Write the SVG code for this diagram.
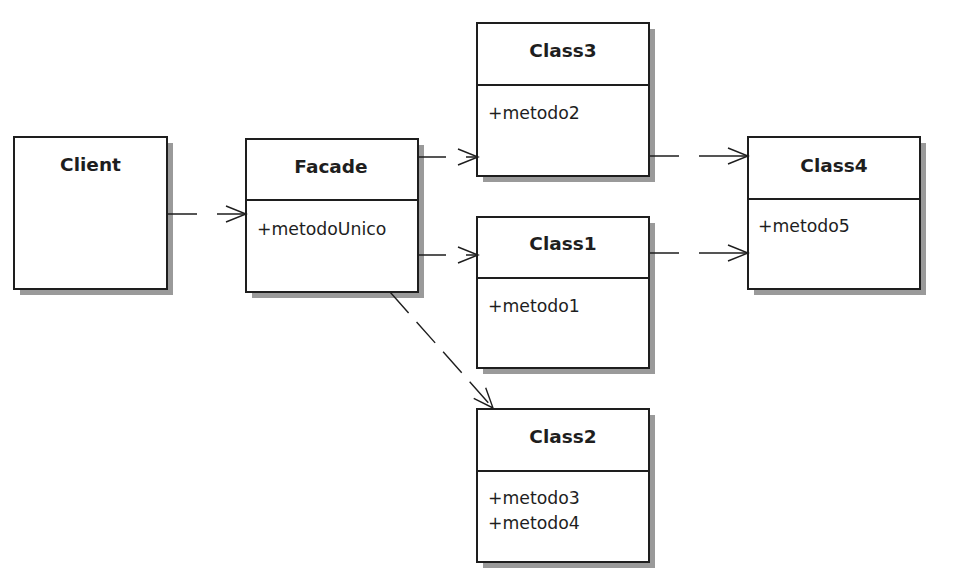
<svg xmlns="http://www.w3.org/2000/svg" width="957" height="587" viewBox="0 0 957 587">
<style>
.box{fill:#fff;stroke:#1e1e1e;stroke-width:2}
.shadow{fill:#9a9a9a}
.div{stroke:#1e1e1e;stroke-width:2}
.title{font-family:"DejaVu Sans",sans-serif;font-weight:bold;font-size:18.5px;fill:#1e1e1e;text-anchor:middle}
.m{font-family:"DejaVu Sans",sans-serif;font-size:17.3px;fill:#1e1e1e}
.c{fill:none;stroke:#1e1e1e;stroke-width:1.4}
.dash{stroke-dasharray:28 12}
</style>
<defs>
<marker id="open" markerUnits="userSpaceOnUse" viewBox="-22 -10 24 20" refX="0" refY="0" markerWidth="24" markerHeight="20" orient="auto">
<path d="M-20,-8 L0,0 L-20,8" fill="none" stroke="#1e1e1e" stroke-width="1.4"/>
</marker>
</defs>
<rect width="957" height="587" fill="#fff"/>
<g id="client">
<rect class="shadow" x="20" y="143" width="153" height="152"/>
<rect class="box" x="14" y="137" width="153" height="152"/>
<text class="title" x="90.5" y="171">Client</text>
</g>
<g id="facade">
<rect class="shadow" x="252" y="145" width="172" height="153"/>
<rect class="box" x="246" y="139" width="172" height="153"/>
<line class="div" x1="246" y1="200" x2="418" y2="200"/>
<text class="title" x="331" y="173">Facade</text>
<text class="m" x="257" y="235">+metodoUnico</text>
</g>
<g id="class3">
<rect class="shadow" x="483" y="29" width="172" height="153"/>
<rect class="box" x="477" y="23" width="172" height="153"/>
<line class="div" x1="477" y1="85" x2="649" y2="85"/>
<text class="title" x="563" y="57">Class3</text>
<text class="m" x="488" y="119">+metodo2</text>
</g>
<g id="class1">
<rect class="shadow" x="483" y="223" width="172" height="151"/>
<rect class="box" x="477" y="217" width="172" height="151"/>
<line class="div" x1="477" y1="278" x2="649" y2="278"/>
<text class="title" x="563" y="250">Class1</text>
<text class="m" x="488" y="312">+metodo1</text>
</g>
<g id="class4">
<rect class="shadow" x="754" y="143" width="172" height="152"/>
<rect class="box" x="748" y="137" width="172" height="152"/>
<line class="div" x1="748" y1="199" x2="920" y2="199"/>
<text class="title" x="834" y="172">Class4</text>
<text class="m" x="758" y="232">+metodo5</text>
</g>
<g id="class2">
<rect class="shadow" x="483" y="415" width="172" height="153"/>
<rect class="box" x="477" y="409" width="172" height="153"/>
<line class="div" x1="477" y1="471" x2="649" y2="471"/>
<text class="title" x="563" y="443">Class2</text>
<text class="m" x="488" y="504">+metodo3</text>
<text class="m" x="488" y="529">+metodo4</text>
</g>
<g id="connectors">
<path class="c" d="M167 214 H197 M217 214 H246" marker-end="url(#open)"/>
<path class="c" d="M418 157 H446 M466 157 H478" marker-end="url(#open)"/>
<path class="c" d="M418 255 H446 M466 255 H478" marker-end="url(#open)"/>
<path class="c" d="M649 156 H679 M699 156 H748" marker-end="url(#open)"/>
<path class="c" d="M649 253 H679 M699 253 H748" marker-end="url(#open)"/>
<path class="c dash" d="M390 292 L493 408" marker-end="url(#open)"/>
</g>
</svg>
